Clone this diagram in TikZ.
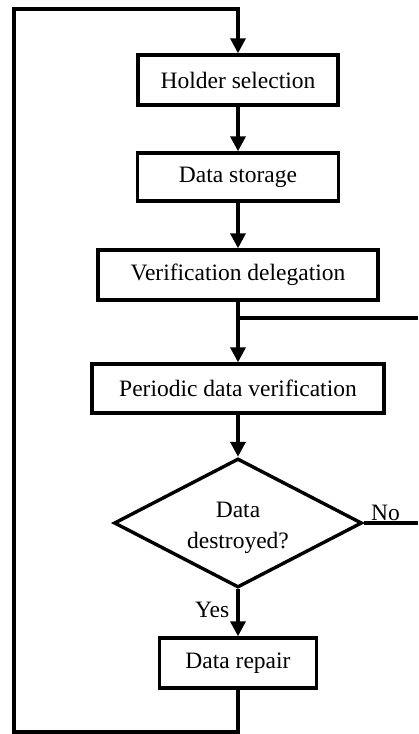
\documentclass[tikz,border=0pt]{standalone}
\usepackage{fontspec}
\setmainfont{Liberation Serif}
\usetikzlibrary{shapes.geometric,arrows.meta}
\begin{document}
\begin{tikzpicture}[x=1pt,y=-1pt,
  every node/.style={font=\fontsize{23.5}{31}\selectfont},
  stepbox/.style={draw,line width=3.4pt,rectangle,inner sep=0pt,align=center},
  decision/.style={draw,line width=3.4pt,diamond,inner sep=0pt,aspect=1.92,
    minimum width=248pt,minimum height=129pt},
  link/.style={line width=3.4pt,line join=miter},
  flow/.style={link,-{Triangle[width=15pt,length=15pt]}},
  tag/.style={inner sep=1pt}]
  \fill[white] (0,0) rectangle (418,734);
  \useasboundingbox (0,0) rectangle (418,734);

  \node[stepbox,minimum width=200pt,minimum height=50pt] (hold) at (238,80) {Holder selection};
  \node[stepbox,minimum width=201pt,minimum height=48pt] (store) at (238,177) {Data storage};
  \node[stepbox,minimum width=280pt,minimum height=50pt] (deleg) at (238,275) {Verification delegation};
  \node[stepbox,minimum width=292pt,minimum height=49pt] (period) at (238,388.5) {Periodic data verification};
  \node[decision] (check) at (238,523) {};
  \node[align=center,inner sep=0pt] (checktext) at (238,528) {Data\\destroyed?};
  \node[stepbox,minimum width=157pt,minimum height=50pt] (repair) at (238,663) {Data repair};

  \coordinate (split) at (238,318);
  \coordinate (branchend) at (418,318);
  \coordinate (noend) at (418,523);
  \coordinate (lowright) at (238,732);
  \coordinate (lowleft) at (14,732);
  \coordinate (upleft) at (14,9);
  \coordinate (upright) at (238,9);

  \draw[flow] (hold) -- (store);
  \draw[flow] (store) -- (deleg);
  \draw[flow] (deleg) -- (period);
  \draw[link] (split) -- (branchend);
  \draw[flow] (period) -- (check);
  \draw[flow] (check) -- node[tag,left=6pt,pos=0.45] {Yes} (repair);
  \draw[link] (check.east) -- node[tag,above,pos=0.4] {No} (noend);
  \draw[flow] (repair.south) -- (lowright) -- (lowleft) -- (upleft) -- (upright) -- (hold.north);
\end{tikzpicture}
\end{document}
